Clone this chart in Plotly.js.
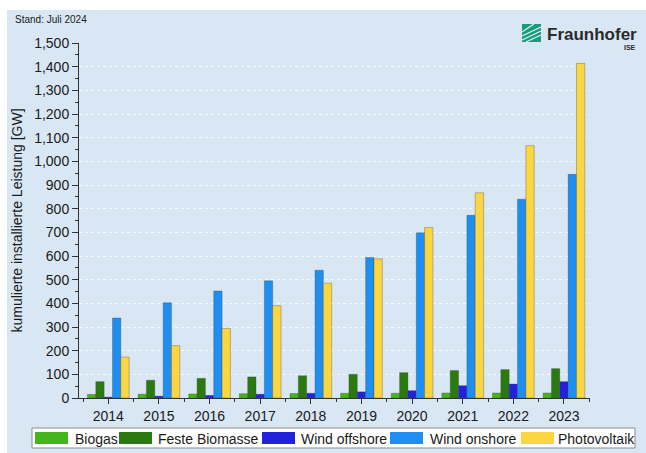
<!DOCTYPE html>
<html><head><meta charset="utf-8">
<script src="https://cdn.plot.ly/plotly-3.0.1.min.js"></script>
<style>
html,body{margin:0;padding:0;background:#ffffff;width:646px;height:453px;overflow:hidden}
#chart{position:absolute;left:7px;top:10px;width:639px;height:443px}
</style>
</head><body><div id="chart"></div>
<script>
// ---- data ----
const years = [2014, 2015, 2016, 2017, 2018, 2019, 2020, 2021, 2022, 2023];
const yearLabels = ['2014','2015','2016','2017','2018','2019','2020','2021','2022','2023'];
const seriesNames = ['Biogas', 'Feste Biomasse', 'Wind offshore', 'Wind onshore', 'Photovoltaik'];
const biogas        = [15, 16, 17, 18, 19, 20, 20, 21, 21, 21];
const festeBiomasse = [69, 75, 83, 89, 94, 100, 107, 116, 120, 124];
const windOffshore  = [4, 8, 11, 16, 20, 26, 31, 52, 59, 69];
const windOnshore   = [338, 402, 452, 495, 540, 594, 698, 772, 840, 945];
const photovoltaik  = [173, 221, 294, 390, 485, 588, 720, 867, 1066, 1414];
const yTickVals = [0,100,200,300,400,500,600,700,800,900,1000,1100,1200,1300,1400,1500];

// ---- styles ----
const colors = ['#44b51c', '#2b7a10', '#2222dd', '#1e8ff0', '#fbd640'];
const seriesValues = [biogas, festeBiomasse, windOffshore, windOnshore, photovoltaik];
const bg = '#d9e7f4';
const font = 'Liberation Sans, Arial, sans-serif';

const traces = seriesNames.map((name, i) => ({
  type: 'bar', name: name, x: years, y: seriesValues[i],
  marker: {color: colors[i], line: {color: 'rgba(60,60,60,0.55)', width: 0.6}},
  showlegend: false, hoverinfo: 'x+y+name'
}));

// plot area in page pixels: left 79, right 590, top 43, bottom 398 ; div offset (7,10)
const L = 79, R = 590, T = 43, B = 398;
const px = p => (p - L) / (R - L);
const py = p => (B - p) / (B - T);

const shapes = [];
const annotations = [];

// custom legend
shapes.push({type:'rect', xref:'paper', yref:'paper', x0:px(32), x1:px(635), y0:py(448), y1:py(428),
  fillcolor:'#ffffff', line:{color:'#8a8a8a', width:1}, layer:'above'});
const legSw = [35, 119, 262, 390, 521];
const legTx = [73, 156, 299, 428, 556];
seriesNames.forEach((n, i) => {
  shapes.push({type:'rect', xref:'paper', yref:'paper', x0:px(legSw[i]), x1:px(legSw[i]+33),
    y0:py(444), y1:py(432), fillcolor: colors[i], line:{width:0}, layer:'above'});
  annotations.push({xref:'paper', yref:'paper', x:px(legTx[i]), y:py(438.5), xanchor:'left', yanchor:'middle',
    text:n, showarrow:false, font:{family:font, size:14, color:'#1a1a1a'}});
});

// stand text
annotations.push({xref:'paper', yref:'paper', x:px(13), y:py(19), xanchor:'left', yanchor:'middle',
  text:'Stand: Juli 2024', showarrow:false, font:{family:font, size:10, color:'#1a1a1a'}});

// Fraunhofer logo
annotations.push({xref:'paper', yref:'paper', x:px(545), y:py(34), xanchor:'left', yanchor:'middle',
  text:'<b>Fraunhofer</b>', showarrow:false, font:{family:font, size:17, color:'#2a2a2a'}});
annotations.push({xref:'paper', yref:'paper', x:px(638), y:py(48), xanchor:'right', yanchor:'middle',
  text:'<b>ISE</b>', showarrow:false, font:{family:font, size:7, color:'#2a2a2a'}});
shapes.push({type:'rect', xref:'paper', yref:'paper', x0:px(522), x1:px(541), y0:py(42), y1:py(24),
  fillcolor:'#179c7d', line:{width:0}, layer:'above'});
[[522,36,541,27],[522,40,541,31],[526,42,541,35],[522,32,534,24]].forEach(s => {
  shapes.push({type:'line', xref:'paper', yref:'paper', x0:px(s[0]), y0:py(s[1]), x1:px(s[2]), y1:py(s[3]),
    line:{color:'#e8f4f0', width:1.2}, layer:'above'});
});

const layout = {
  width: 639, height: 443,
  margin: {l: 72, r: 56, t: 33, b: 55, pad: 0},
  paper_bgcolor: bg, plot_bgcolor: bg,
  barmode: 'group', bargap: 0.176, bargroupgap: 0,
  font: {family: font, size: 14, color: '#1a1a1a'},
  xaxis: {
    type: 'linear', range: [2013.421, 2023.514], fixedrange: true,
    tickmode: 'array', tickvals: years, ticktext: yearLabels,
    ticks: 'outside', ticklen: 5, tickcolor: '#333', tickwidth: 1,
    showline: true, linecolor: '#333', linewidth: 1, showgrid: false, zeroline: false,
    minor: {tickmode: 'linear', tick0: 2013.5, dtick: 1, ticks: 'outside', ticklen: 3, tickcolor: '#333', showgrid: false},
    tickfont: {family: font, size: 14, color: '#1a1a1a'}
  },
  yaxis: {
    range: [0, 1500], fixedrange: true,
    tickmode: 'array', tickvals: yTickVals, tickformat: ',d',
    ticks: 'outside', ticklen: 6, tickcolor: '#333', tickwidth: 1,
    showline: true, linecolor: '#333', linewidth: 1, zeroline: false,
    showgrid: true, gridcolor: 'rgba(255,255,255,0.75)', griddash: 'dot', gridwidth: 1,
    minor: {tickmode: 'linear', tick0: 0, dtick: 50, ticks: 'outside', ticklen: 3, tickcolor: '#333', showgrid: false},
    tickfont: {family: font, size: 14, color: '#1a1a1a'},
    title: {text: 'kumulierte installierte Leistung [GW]', font: {family: font, size: 14, color: '#1a1a1a'}, standoff: 8}
  },
  shapes: shapes,
  annotations: annotations
};

Plotly.newPlot('chart', traces, layout, {displayModeBar: false, staticPlot: true});
</script>
</body></html>
